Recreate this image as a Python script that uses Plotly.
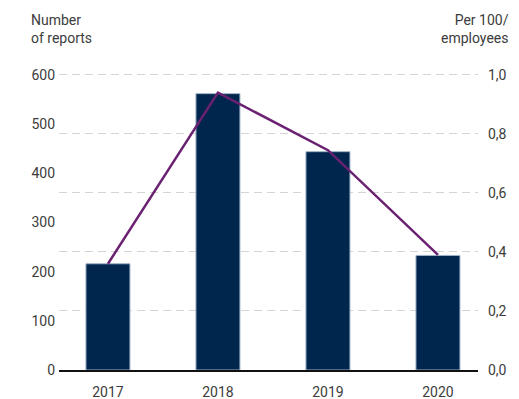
import plotly.graph_objects as go

# Reports per year (bars, left axis) and reports per 100 employees (line, right axis)
years = ["2017", "2018", "2019", "2020"]
reports = [216, 562, 444, 233]
per_100 = [0.36, 0.94, 0.745, 0.39]

left_ticks = [0, 100, 200, 300, 400, 500, 600]
right_ticks = [0.0, 0.2, 0.4, 0.6, 0.8, 1.0]

W, H = 519, 399
# plot area: y=0 at 370px, 1.0 (600) at 75px; a little headroom so the top gridline shows
HEAD = 1.01
M = dict(l=59, r=41, t=72, b=29)
PH = H - M["t"] - M["b"]

text_color = "#3c3c3c"
font = dict(family="Roboto, Lato, sans-serif", size=14, color=text_color)

fig = go.Figure()
fig.add_trace(go.Bar(
    x=years, y=reports, width=0.4,
    marker=dict(color="#00264d", line=dict(color="#9fb3c8", width=1)),
    yaxis="y", name="Number of reports",
))
fig.add_trace(go.Scatter(
    x=years, y=per_100, mode="lines",
    line=dict(color="#6b2172", width=2.5),
    yaxis="y2", name="Per 100 employees",
))

fig.update_layout(
    width=W, height=H, margin=M,
    paper_bgcolor="white", plot_bgcolor="white",
    showlegend=False, separators=",.",
    font=font,
    xaxis=dict(
        type="category", range=[-0.445, 3.364], automargin=False,
        showline=True, linecolor="#111111", linewidth=1.5,
        showgrid=False, ticks="", ticklabelstandoff=8,
        tickfont=font,
    ),
    yaxis=dict(
        range=[0, 600 * HEAD], tickvals=left_ticks, automargin=False,
        showgrid=False, zeroline=False, showline=False,
        ticks="", ticklabelstandoff=3, tickfont=font,
    ),
    yaxis2=dict(
        overlaying="y", side="right", automargin=False,
        range=[0, 1.0 * HEAD], tickvals=right_ticks, tickformat=".1f",
        showgrid=True, gridcolor="#d4d4d4", gridwidth=1, griddash="8px,5px",
        zeroline=False, showline=False,
        ticks="", ticklabelstandoff=9, tickfont=font,
    ),
    annotations=[
        dict(text="Number<br>of reports", xref="paper", yref="paper",
             x=-(M["l"] - 29) / (W - M["l"] - M["r"]), y=1 + (M["t"] - 10) / PH,
             xanchor="left", yanchor="top", align="left", showarrow=False, font=font),
        dict(text="Per 100/<br>employees", xref="paper", yref="paper",
             x=1 + (511 - (W - M["r"])) / (W - M["l"] - M["r"]), y=1 + (M["t"] - 10) / PH,
             xanchor="right", yanchor="top", align="right", showarrow=False, font=font),
    ],
)

fig.write_html("out.html")
